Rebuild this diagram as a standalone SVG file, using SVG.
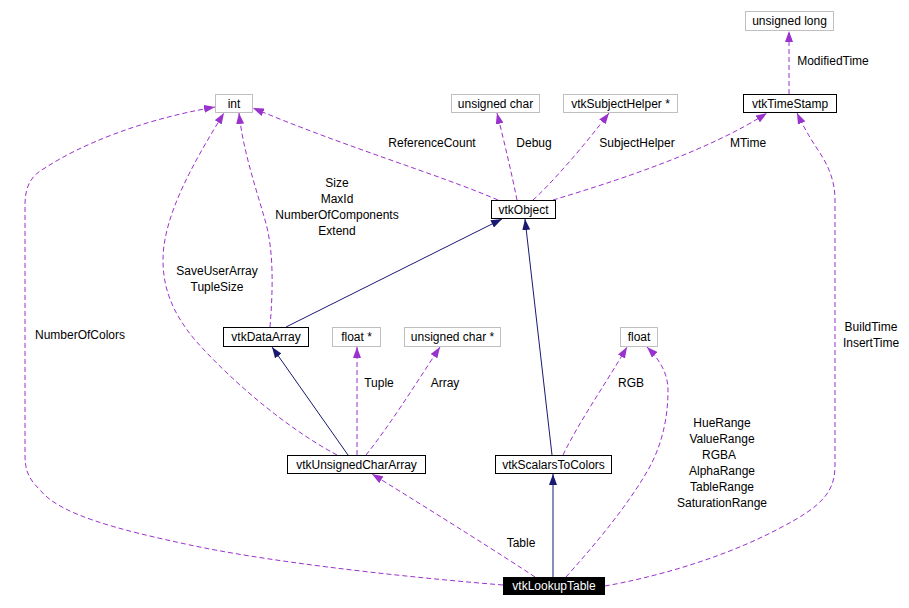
<svg xmlns="http://www.w3.org/2000/svg" width="909" height="608" viewBox="0 0 909 608">
<style>
text{font-family:"Liberation Sans",Arial,sans-serif;font-size:12px;fill:#000;text-anchor:middle}
.cls{fill:#fff;stroke:#000;stroke-width:1}
.prim{fill:#fff;stroke:#bfbfbf;stroke-width:1}
.e{fill:none;stroke:#191970;stroke-width:1;marker-end:url(#an)}
.d{fill:none;stroke:#9a32cd;stroke-width:1;stroke-dasharray:5,3;marker-end:url(#ap)}
</style>
<defs>
<marker id="an" viewBox="0 0 11 8" refX="11" refY="4" markerWidth="11" markerHeight="8" markerUnits="userSpaceOnUse" orient="auto"><path d="M0,0 L11,4 L0,8 z" fill="#191970" stroke="none"/></marker>
<marker id="ap" viewBox="0 0 11 8" refX="11" refY="4" markerWidth="11" markerHeight="8" markerUnits="userSpaceOnUse" orient="auto"><path d="M0,0 L11,4 L0,8 z" fill="#9a32cd" stroke="none"/></marker>
</defs>
<rect width="909" height="608" fill="#fff"/>
<g id="connectors">
<path class="e" d="M286,327 L502,219"/>
<path class="e" d="M552,455 L525,219"/>
<path class="e" d="M348,455 L272,347"/>
<path class="e" d="M553,577 L553,474"/>
<path class="d" d="M498,200 C440,175 340,145 253,108"/>
<path class="d" d="M517,200 C512,175 505,145 497,113"/>
<path class="d" d="M533,200 C550,185 585,145 609,113"/>
<path class="d" d="M553,200 C620,180 710,150 767,113"/>
<path class="d" d="M789,94 L789,31"/>
<path class="d" d="M270,327 C273,290 274,250 265,220 C255,185 243,150 239,113"/>
<path class="d" d="M337,455 C290,430 235,385 195,340 C170,310 163,285 163,260 C163,215 195,160 224,113"/>
<path class="d" d="M357,455 L357,347"/>
<path class="d" d="M366,455 C390,425 415,385 440,347"/>
<path class="d" d="M563,455 C580,420 605,385 627,347"/>
<path class="d" d="M566,577 C590,550 625,510 648,470 C665,440 668,410 668,390 C668,372 658,358 647,347"/>
<path class="d" d="M535,577 C505,557 440,516 372,474"/>
<path class="d" d="M503,585 C380,575 260,560 190,545 C120,530 60,515 40,490 C28,478 25,470 25,455 L25,205 C25,185 32,175 45,168 C80,145 140,120 215,107"/>
<path class="d" d="M605,586 C650,578 720,560 780,528 C825,505 835,490 835,465 L835,200 C835,180 828,165 818,150 C810,138 803,126 797,113"/>
</g>
<g id="labels">
<text x="833" y="64.5">ModifiedTime</text>
<text x="432" y="146.5">ReferenceCount</text>
<text x="534" y="146.5">Debug</text>
<text x="637" y="146.5">SubjectHelper</text>
<text x="748" y="146.5">MTime</text>
<text x="337" y="186.5">Size</text>
<text x="337" y="202.5">MaxId</text>
<text x="337" y="218.5">NumberOfComponents</text>
<text x="337" y="234.5">Extend</text>
<text x="217" y="275">SaveUserArray</text>
<text x="217" y="291">TupleSize</text>
<text x="80" y="338.5">NumberOfColors</text>
<text x="379" y="386.5">Tuple</text>
<text x="445" y="386.5">Array</text>
<text x="631" y="386.5">RGB</text>
<text x="722" y="426.5">HueRange</text>
<text x="722" y="442.5">ValueRange</text>
<text x="719" y="458.5">RGBA</text>
<text x="722" y="474.5">AlphaRange</text>
<text x="722" y="490.5">TableRange</text>
<text x="722" y="506.5">SaturationRange</text>
<text x="521" y="546.5">Table</text>
<text x="871" y="330.5">BuildTime</text>
<text x="871" y="346.5">InsertTime</text>
</g>
<g id="n-unsignedlong"><rect class="prim" x="745.5" y="11.5" width="88" height="19"/><text x="789.5" y="25">unsigned long</text></g>
<g id="n-vtkTimeStamp"><rect class="cls" x="743.5" y="94.5" width="93" height="18"/><text x="790" y="107.5">vtkTimeStamp</text></g>
<g id="n-int"><rect class="prim" x="215.5" y="94.5" width="37" height="18"/><text x="234" y="107.5">int</text></g>
<g id="n-unsignedchar"><rect class="prim" x="451.5" y="94.5" width="88" height="18"/><text x="495.5" y="107.5">unsigned char</text></g>
<g id="n-vtkSubjectHelper"><rect class="prim" x="563.5" y="94.5" width="114" height="18"/><text x="620.5" y="107.5">vtkSubjectHelper *</text></g>
<g id="n-vtkObject"><rect class="cls" x="491.5" y="200.5" width="64" height="18"/><text x="523.5" y="213.5">vtkObject</text></g>
<g id="n-vtkDataArray"><rect class="cls" x="223.5" y="327.5" width="85" height="19"/><text x="266" y="341">vtkDataArray</text></g>
<g id="n-floatptr"><rect class="prim" x="332.5" y="327.5" width="48" height="19"/><text x="356.5" y="341">float *</text></g>
<g id="n-unsignedcharptr"><rect class="prim" x="404.5" y="327.5" width="96" height="19"/><text x="452.5" y="341">unsigned char *</text></g>
<g id="n-float"><rect class="prim" x="620.5" y="327.5" width="37" height="19"/><text x="639" y="341">float</text></g>
<g id="n-vtkUnsignedCharArray"><rect class="cls" x="287.5" y="455.5" width="138" height="18"/><text x="356.5" y="468.5">vtkUnsignedCharArray</text></g>
<g id="n-vtkScalarsToColors"><rect class="cls" x="495.5" y="455.5" width="116" height="18"/><text x="553.5" y="468.5">vtkScalarsToColors</text></g>
<g id="n-vtkLookupTable"><rect x="503" y="577" width="102" height="18" fill="#000"/><text x="554" y="590" style="fill:#fff">vtkLookupTable</text></g>
</svg>
